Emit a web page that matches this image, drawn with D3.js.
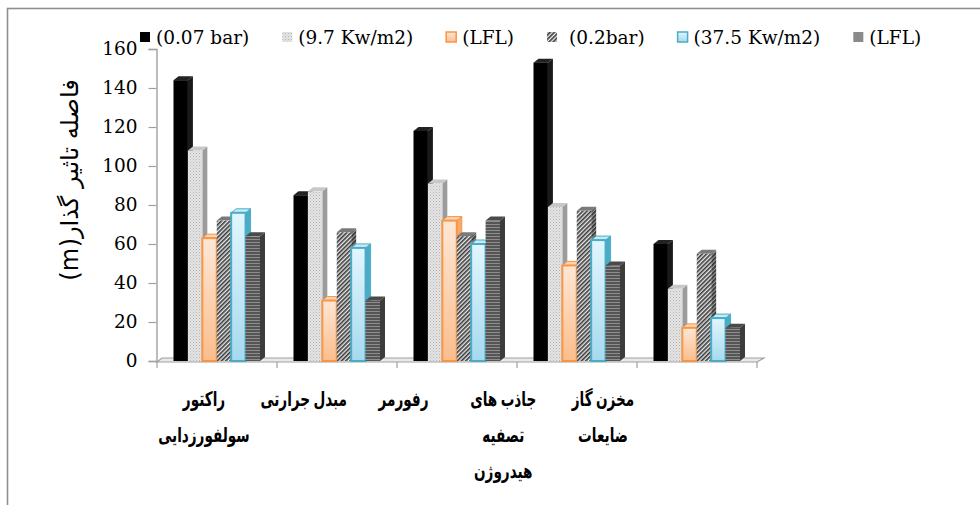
<!DOCTYPE html>
<html>
<head>
<meta charset="utf-8">
<script src="https://cdn.jsdelivr.net/npm/d3@7"></script>
<style>
  html, body { margin: 0; padding: 0; background: #fff; }
  svg { display: block; }
</style>
</head>
<body>
<svg id="chart" width="980" height="505"></svg>
<script>
// Category labels (each entry is the list of lines shown under the group)
const categories = [
  ["راکتور", "سولفورزدایی"],
  ["مبدل جرارتی"],
  ["رفورمر"],
  ["جاذب های", "تصفیه", "هیدروژن"],
  ["مخزن گاز", "ضایعات"]
];
const seriesNames = ["(0.07 bar)", "(9.7 Kw/m2)", "(LFL)", "(0.2bar)", "(37.5 Kw/m2)", "(LFL)"];

// Effect distance (m) per series, one value per category
const overpressure007 = [144, 85, 118, 153, 60];
const radiation97     = [108, 87, 91, 79, 37];
const lflA            = [63, 31, 72, 49, 17];
const overpressure02  = [72, 66, 64, 77, 55];
const radiation375    = [76, 58, 60, 62, 22];
const lflB            = [64, 31, 72, 49, 17];
const seriesValues = [overpressure007, radiation97, lflA, overpressure02, radiation375, lflB];

const yTicks = [0, 20, 40, 60, 80, 100, 120, 140, 160];
const yTitle = "فاصله تاثیر گذار(m)";

const svg = d3.select("#chart");
const defs = svg.append("defs");

// ---------- fills ----------
// fine light-gray dots
const pDots = defs.append("pattern").attr("id", "pDots").attr("patternUnits", "userSpaceOnUse")
  .attr("width", 3).attr("height", 3);
pDots.append("rect").attr("width", 3).attr("height", 3).attr("fill", "#e4e4e4");
pDots.append("rect").attr("x", 0).attr("y", 0).attr("width", 1).attr("height", 1).attr("fill", "#b4b4b4");
pDots.append("rect").attr("x", 1.5).attr("y", 1.5).attr("width", 1).attr("height", 1).attr("fill", "#c4c4c4");

// dark diagonal hatch
const pHatch = defs.append("pattern").attr("id", "pHatch").attr("patternUnits", "userSpaceOnUse")
  .attr("width", 3).attr("height", 3).attr("patternTransform", "rotate(45)");
pHatch.append("rect").attr("width", 3).attr("height", 3).attr("fill", "#e8e8e8");
pHatch.append("rect").attr("width", 1.6).attr("height", 3).attr("fill", "#3a3a3a");

const pHatchSide = defs.append("pattern").attr("id", "pHatchSide").attr("patternUnits", "userSpaceOnUse")
  .attr("width", 3).attr("height", 3).attr("patternTransform", "rotate(45)");
pHatchSide.append("rect").attr("width", 3).attr("height", 3).attr("fill", "#9a9a9a");
pHatchSide.append("rect").attr("width", 1.6).attr("height", 3).attr("fill", "#2a2a2a");

// dark gray horizontal lines
const pHoriz = defs.append("pattern").attr("id", "pHoriz").attr("patternUnits", "userSpaceOnUse")
  .attr("width", 4).attr("height", 3);
pHoriz.append("rect").attr("width", 4).attr("height", 3).attr("fill", "#555");
pHoriz.append("rect").attr("y", 2).attr("width", 4).attr("height", 1).attr("fill", "#8e8e8e");

// orange and cyan gradients
const gOrange = defs.append("linearGradient").attr("id", "gOrange").attr("x1", 0).attr("y1", 0).attr("x2", 0).attr("y2", 1);
gOrange.append("stop").attr("offset", "0%").attr("stop-color", "#fde7d6");
gOrange.append("stop").attr("offset", "100%").attr("stop-color", "#fbbd8c");
const gCyan = defs.append("linearGradient").attr("id", "gCyan").attr("x1", 0).attr("y1", 0).attr("x2", 0).attr("y2", 1);
gCyan.append("stop").attr("offset", "0%").attr("stop-color", "#e2f6fe");
gCyan.append("stop").attr("offset", "100%").attr("stop-color", "#a6d9ee");

const styles = [
  { front: "#000", side: "#1a1a1a", top: "#222", stroke: "none", legend: "#000", lstroke: "none" },
  { front: "url(#pDots)", side: "#9c9c9c", top: "#c8c8c8", stroke: "none", legend: "url(#pDots)", lstroke: "none" },
  { front: "url(#gOrange)", side: "#f8a868", top: "#fcd2b0", stroke: "#f79646", legend: "url(#gOrange)", lstroke: "#f79646" },
  { front: "url(#pHatch)", side: "url(#pHatchSide)", top: "#7a7a7a", stroke: "none", legend: "url(#pHatch)", lstroke: "none" },
  { front: "url(#gCyan)", side: "#4bacc6", top: "#c4ecf8", stroke: "#4bacc6", legend: "url(#gCyan)", lstroke: "#4bacc6" },
  { front: "url(#pHoriz)", side: "#3c3c3c", top: "#4a4a4a", stroke: "none", legend: "#8a8a8a", lstroke: "none" }
];

// ---------- frame ----------
svg.append("rect").attr("x", 7.5).attr("y", 8.5).attr("width", 1100).attr("height", 1100)
  .attr("fill", "none").attr("stroke", "#8f8f8f").attr("stroke-width", 1.6);

// ---------- scales ----------
const plotLeft = 157, plotRight = 757, y0px = 361, yTop = 49;
const x0 = d3.scaleBand().domain(d3.range(categories.length)).range([plotLeft, plotRight]);
const x1 = d3.scaleBand().domain(d3.range(seriesNames.length)).range([16.5, 103]);
const y = d3.scaleLinear().domain([0, 160]).range([y0px, yTop]);
const labelX = d3.scalePoint().domain(d3.range(categories.length)).range([204, 603]);

const DX = 5, DY = 4; // 3-D depth offset

// ---------- floor ----------
svg.append("path")
  .attr("d", `M${plotLeft},${y0px + 1} L${plotRight},${y0px + 1} L${plotRight + DX + 2},${y0px - DY + 1} L${plotLeft + DX},${y0px - DY + 1} Z`)
  .attr("fill", "#e9e9e9").attr("stroke", "#a0a0a0").attr("stroke-width", 1.2);

// category tick marks
svg.append("g").selectAll("line").data(d3.range(categories.length + 1)).join("line")
  .attr("x1", i => plotLeft + i * x0.step()).attr("x2", i => plotLeft + i * x0.step())
  .attr("y1", y0px + 1).attr("y2", y0px + 7)
  .attr("stroke", "#a0a0a0").attr("stroke-width", 1.2);

// ---------- y axis ----------
const yAxis = d3.axisLeft(y).tickValues(yTicks).tickSize(8).tickPadding(11).tickFormat(d3.format("d"));
const gy = svg.append("g").attr("transform", `translate(${plotLeft - 0.5},0)`).call(yAxis);
gy.select(".domain").attr("stroke", "#a0a0a0").attr("stroke-width", 1.4);
gy.selectAll(".tick line").attr("stroke", "#a0a0a0").attr("stroke-width", 1.2);
gy.selectAll(".tick text").attr("font-family", "'DejaVu Serif', serif").attr("font-size", 18.5).attr("fill", "#000");

// y title
svg.append("text")
  .attr("transform", `translate(78,180) rotate(-90)`)
  .attr("text-anchor", "middle")
  .attr("direction", "rtl")
  .attr("font-family", "'DejaVu Sans', sans-serif")
  .attr("font-size", 24)
  .attr("letter-spacing", 0.6)
  .text(yTitle);

// ---------- bars ----------
const bars = svg.append("g");
categories.forEach((cat, ci) => {
  const g = bars.append("g").attr("transform", `translate(${x0(ci)},0)`);
  seriesValues.forEach((vals, si) => {
    const v = vals[ci];
    const st = styles[si];
    const x = x1(si), w = x1.bandwidth();
    const yv = y(v), yb = y(0);
    const bg = g.append("g");
    // side face
    bg.append("path")
      .attr("d", `M${x + w},${yv} L${x + w + DX},${yv - DY} L${x + w + DX},${yb - DY} L${x + w},${yb} Z`)
      .attr("fill", st.side).attr("stroke", st.stroke === "none" ? "none" : st.stroke).attr("stroke-width", 1);
    // top face
    bg.append("path")
      .attr("d", `M${x},${yv} L${x + DX},${yv - DY} L${x + w + DX},${yv - DY} L${x + w},${yv} Z`)
      .attr("fill", st.top).attr("stroke", st.stroke === "none" ? "none" : st.stroke).attr("stroke-width", 1);
    // front face
    bg.append("rect")
      .attr("x", x).attr("y", yv).attr("width", w).attr("height", yb - yv)
      .attr("fill", st.front)
      .attr("stroke", st.stroke).attr("stroke-width", st.stroke === "none" ? 0 : 2);
  });
});

// ---------- category labels ----------
const cl = svg.append("g")
  .attr("font-family", "'DejaVu Sans', sans-serif")
  .attr("font-weight", "bold")
  .attr("font-size", 20)
  .attr("text-anchor", "middle")
  .attr("direction", "rtl");
categories.forEach((lines, ci) => {
  lines.forEach((ln, li) => {
    cl.append("text")
      .attr("transform", `translate(${labelX(ci)},${406 + li * 36}) scale(0.68,1)`)
      .attr("word-spacing", -2)
      .text(ln);
  });
});

// ---------- legend ----------
const lg = svg.append("g").attr("font-family", "'DejaVu Serif', serif").attr("font-size", 18.5);
let lx = 140;
seriesNames.forEach((name, si) => {
  const st = styles[si];
  lg.append("rect").attr("x", lx).attr("y", 32).attr("width", 10).attr("height", 10)
    .attr("fill", st.legend).attr("stroke", st.lstroke).attr("stroke-width", st.lstroke === "none" ? 0 : 1.5);
  const gap = si === 3 ? 12 : 6;
  const t = lg.append("text").attr("x", lx + 10 + gap).attr("y", 44).text(name);
  lx = lx + 10 + gap + t.node().getComputedTextLength() + 33;
});
</script>
</body>
</html>
